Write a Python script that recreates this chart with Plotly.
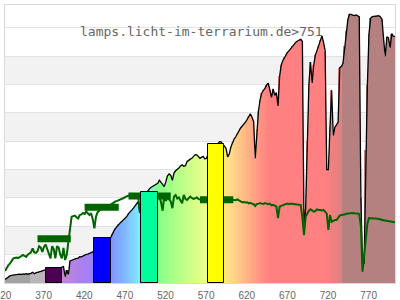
import plotly.graph_objects as go

# wavelength grid (nm)
wl = list(range(320, 801, 2))

# measured spectrum (black outline, rainbow filled)
spec = [
    0.12, 0.17, 0.22, 0.25, 0.27, 0.28, 0.28, 0.30, 0.29, 0.31,
    0.30, 0.32, 0.31, 0.33, 0.31, 0.32, 0.34, 0.38, 0.33, 0.36,
    0.37, 0.39, 0.41, 0.43, 0.45, 0.47, 0.46, 0.48, 0.47, 0.49,
    0.46, 0.50, 0.48, 0.52, 0.50, 0.56, 0.58, 0.22, 0.45, 0.30,
    0.78, 0.81, 0.82, 0.85, 0.87, 0.88, 0.93, 0.92, 0.96, 0.98,
    1.01, 1.02, 1.05, 1.06, 1.10, 1.12, 1.15, 1.17, 1.22, 1.25,
    1.28, 1.33, 1.38, 1.44, 1.50, 1.60, 1.74, 1.84, 1.93, 2.01,
    2.07, 2.13, 2.18, 2.23, 2.29, 2.35, 2.45, 2.50, 2.57, 2.64,
    2.72, 2.80, 2.87, 2.47, 2.95, 3.02, 3.10, 3.20, 3.27, 3.33,
    3.38, 3.42, 3.46, 3.50, 3.52, 3.63, 3.55, 3.45, 3.40, 3.58,
    3.78, 3.85, 3.80, 3.62, 3.88, 3.96, 4.00, 4.06, 4.13, 4.17,
    4.12, 4.14, 4.28, 4.34, 4.37, 4.40, 4.47, 4.53, 4.52, 4.45,
    4.40, 4.44, 4.46, 4.38, 4.40, 4.55, 4.62, 4.68, 4.73, 4.78,
    4.84, 4.92, 4.99, 4.98, 4.90, 4.85, 4.75, 4.45, 4.55, 4.80,
    4.97, 5.08, 5.16, 5.28, 5.38, 5.47, 5.54, 5.60, 5.68, 5.77,
    5.88, 5.97, 5.85, 5.70, 4.40, 5.45, 6.08, 6.47, 6.70, 6.80,
    6.87, 6.99, 7.05, 6.81, 6.55, 6.85, 6.62, 6.72, 6.25, 7.30,
    7.70, 7.85, 7.96, 8.08, 8.15, 8.21, 8.28, 8.37, 8.45, 8.50,
    8.54, 8.58, 8.60, 8.52, 1.90, 2.60, 5.00, 7.00, 7.80, 7.06,
    7.70, 8.05, 8.20, 8.38, 8.56, 8.72, 8.50, 8.20, 4.00, 4.00,
    5.50, 6.80, 5.20, 5.50, 5.58, 5.68, 7.60, 7.64, 7.75, 8.35,
    8.90, 9.30, 9.48, 9.48, 9.45, 9.44, 9.46, 9.43, 9.40, 3.00,
    0.64, 0.70, 4.70, 7.00, 8.80, 9.34, 9.40, 9.41, 9.42, 9.42,
    9.43, 9.40, 9.30, 8.60, 8.00, 8.69, 8.65, 8.30, 8.80, 8.70,
    8.70,
]

# reference spectrum (green line)
ref = [
    0.42, 0.55, 0.62, 0.68, 0.78, 0.86, 0.88, 0.90, 0.88, 0.93,
    0.95, 0.99, 0.94, 0.92, 1.00, 1.04, 1.08, 1.22, 1.08, 1.06,
    1.12, 1.30, 1.25, 1.10, 1.28, 1.36, 1.20, 1.05, 0.87, 1.30,
    1.20, 0.87, 1.30, 1.25, 1.00, 0.87, 1.24, 0.81, 0.99, 1.46,
    1.93, 2.34, 2.36, 2.38, 2.32, 2.28, 2.40, 2.42, 2.47, 2.44,
    2.52, 2.45, 2.40, 2.46, 2.25, 1.93, 2.35, 2.50, 2.56, 2.60,
    2.64, 2.66, 2.70, 2.72, 2.74, 2.76, 2.80, 2.85, 2.88, 2.90,
    2.92, 2.94, 2.97, 3.00, 3.03, 3.05, 3.08, 3.11, 3.10, 3.12,
    3.10, 3.11, 3.05, 2.47, 3.00, 3.05, 3.00, 3.05, 3.00, 3.05,
    3.00, 3.05, 3.00, 3.02, 2.99, 3.05, 2.85, 2.55, 3.07, 2.90,
    3.02, 2.95, 2.88, 2.64, 3.05, 3.10, 2.98, 3.02, 2.90, 2.81,
    3.11, 2.97, 2.93, 3.00, 3.05, 3.00, 2.97, 2.99, 3.02, 2.97,
    2.95, 2.96, 2.94, 2.97, 2.95, 2.93, 2.96, 2.94, 2.95, 2.96,
    2.94, 2.95, 2.93, 2.96, 2.90, 2.92, 2.94, 2.93, 2.95, 2.94,
    2.93, 2.94, 2.92, 2.95, 2.90, 2.88, 2.85, 2.86, 2.84, 2.85,
    2.81, 2.83, 2.80, 2.78, 2.72, 2.79, 2.80, 2.82, 2.80, 2.79,
    2.82, 2.81, 2.78, 2.80, 2.74, 2.76, 2.72, 2.70, 2.29, 2.69,
    2.72, 2.75, 2.78, 2.79, 2.80, 2.78, 2.80, 2.79, 2.78, 2.79,
    2.78, 2.77, 2.75, 2.30, 1.69, 2.34, 2.47, 2.55, 2.60, 2.57,
    2.52, 2.54, 2.60, 2.58, 2.58, 2.55, 2.58, 2.52, 2.45, 1.87,
    2.40, 2.16, 2.20, 2.22, 2.22, 2.30, 2.38, 2.40, 2.40, 2.42,
    2.44, 2.45, 2.46, 2.46, 2.47, 2.46, 2.46, 2.45, 2.43, 2.00,
    0.40, 0.90, 1.60, 2.10, 2.29, 2.28, 2.29, 2.28, 2.28, 2.27,
    2.28, 2.25, 2.22, 2.21, 2.20, 2.19, 2.18, 2.17, 2.16, 2.15,
    2.14,
]

# band bars
bar_center = [380.5, 440, 497.5, 579.5]
bar_height = [0.52, 1.58, 3.20, 4.90]
bar_width = 20.5
bar_colors = ["#4d0052", "#0000ff", "#00ff9c", "#ffff00"]

# band averages of the reference (dark green segments)
seg_start = [360, 418, 472, 560]
seg_end = [401, 460, 524, 601]
seg_value = [1.56, 2.67, 3.07, 2.94]

tick_vals = [320, 370, 420, 470, 520, 570, 620, 670, 720, 770]
tick_text = ["320", "370", "420", "470", "520", "570", "620", "670", "720", "770"]

# wavelength colour stops for the fill
cs_wl = [320, 350, 350.5, 372, 380, 392, 410, 430, 440, 465, 488, 500, 510,
         545, 570, 585, 600, 620, 645, 715, 735, 735.5, 800]
cs_col = ["#a2a2a2", "#a2a2a2", "#b9b5b9", "#b9b5b9", "#b890c0", "#c088d4",
          "#b080e8", "#9a80ff", "#8080ff", "#80b0ff", "#80f0ff", "#80ffc0",
          "#88ff88", "#c8ff88", "#f0ff88", "#fff088", "#ffd888", "#ffb085",
          "#ff8080", "#ff8080", "#de8080", "#b48080", "#b48080"]

XMIN, XMAX = 320, 800
YMAX = 9.81
colorscale = [[(w - XMIN) / (XMAX - XMIN), c] for w, c in zip(cs_wl, cs_col)]

fig = go.Figure()

# rainbow fill under the spectrum
fig.add_trace(go.Bar(
    x=wl, y=spec, width=2,
    marker=dict(color=wl, colorscale=colorscale, cmin=XMIN, cmax=XMAX,
                line=dict(width=0)),
    hoverinfo="skip",
))

# spectrum outline
fig.add_trace(go.Scatter(x=wl, y=spec, mode="lines",
                         line=dict(color="black", width=1.3), hoverinfo="skip"))

# reference line
fig.add_trace(go.Scatter(x=wl, y=ref, mode="lines",
                         line=dict(color="#006400", width=2), hoverinfo="skip"))

# band-average segments
sx, sy = [], []
for a, b, v in zip(seg_start, seg_end, seg_value):
    sx += [a, b, None]
    sy += [v, v, None]
fig.add_trace(go.Scatter(x=sx, y=sy, mode="lines",
                         line=dict(color="#006400", width=7), hoverinfo="skip"))

# coloured band bars on an overlaid subplot (drawn on top)
fig.add_trace(go.Bar(
    x=bar_center, y=bar_height, width=bar_width,
    marker=dict(color=bar_colors, line=dict(color="black", width=1)),
    xaxis="x2", yaxis="y2", hoverinfo="skip",
))

shapes = []
for lo in [1, 3, 5, 7]:
    shapes.append(dict(type="rect", xref="paper", yref="y", x0=0, x1=1,
                       y0=lo, y1=lo + 1, fillcolor="#f2f2f2",
                       line=dict(width=0), layer="below"))

fig.update_layout(
    width=400, height=300,
    margin=dict(l=5, r=5, t=5, b=17, autoexpand=False),
    plot_bgcolor="white", paper_bgcolor="white",
    showlegend=False, barmode="overlay", bargap=0,
    shapes=shapes,
    xaxis=dict(range=[XMIN, XMAX], showgrid=False, zeroline=False,
               automargin=False,
               showline=True, linecolor="#dadada", mirror=True,
               tickmode="array", tickvals=tick_vals, ticktext=tick_text,
               ticks="", ticklabelstandoff=3, ticklabelshift=-2,
               ticklabeloverflow="allow",
               tickfont=dict(family="Liberation Sans", size=10,
                             color="#666666")),
    yaxis=dict(range=[0, YMAX], tick0=0, dtick=1, showgrid=True,
               automargin=False,
               gridcolor="#e2e2e2", gridwidth=1, zeroline=False,
               showticklabels=False, showline=True, linecolor="#dadada",
               mirror=True),
    xaxis2=dict(range=[XMIN, XMAX], overlaying="x", visible=False,
                automargin=False),
    yaxis2=dict(range=[0, YMAX], overlaying="y", visible=False,
                automargin=False),
    annotations=[dict(
        text="lamps.licht-im-terrarium.de>751", xref="paper", yref="paper",
        x=(78 - 5) / 390, y=(283 - 32) / 278, xanchor="left", yanchor="middle",
        showarrow=False,
        font=dict(family="DejaVu Sans Mono", size=13, color="#666666"),
    )],
)

fig.write_html("out.html")
